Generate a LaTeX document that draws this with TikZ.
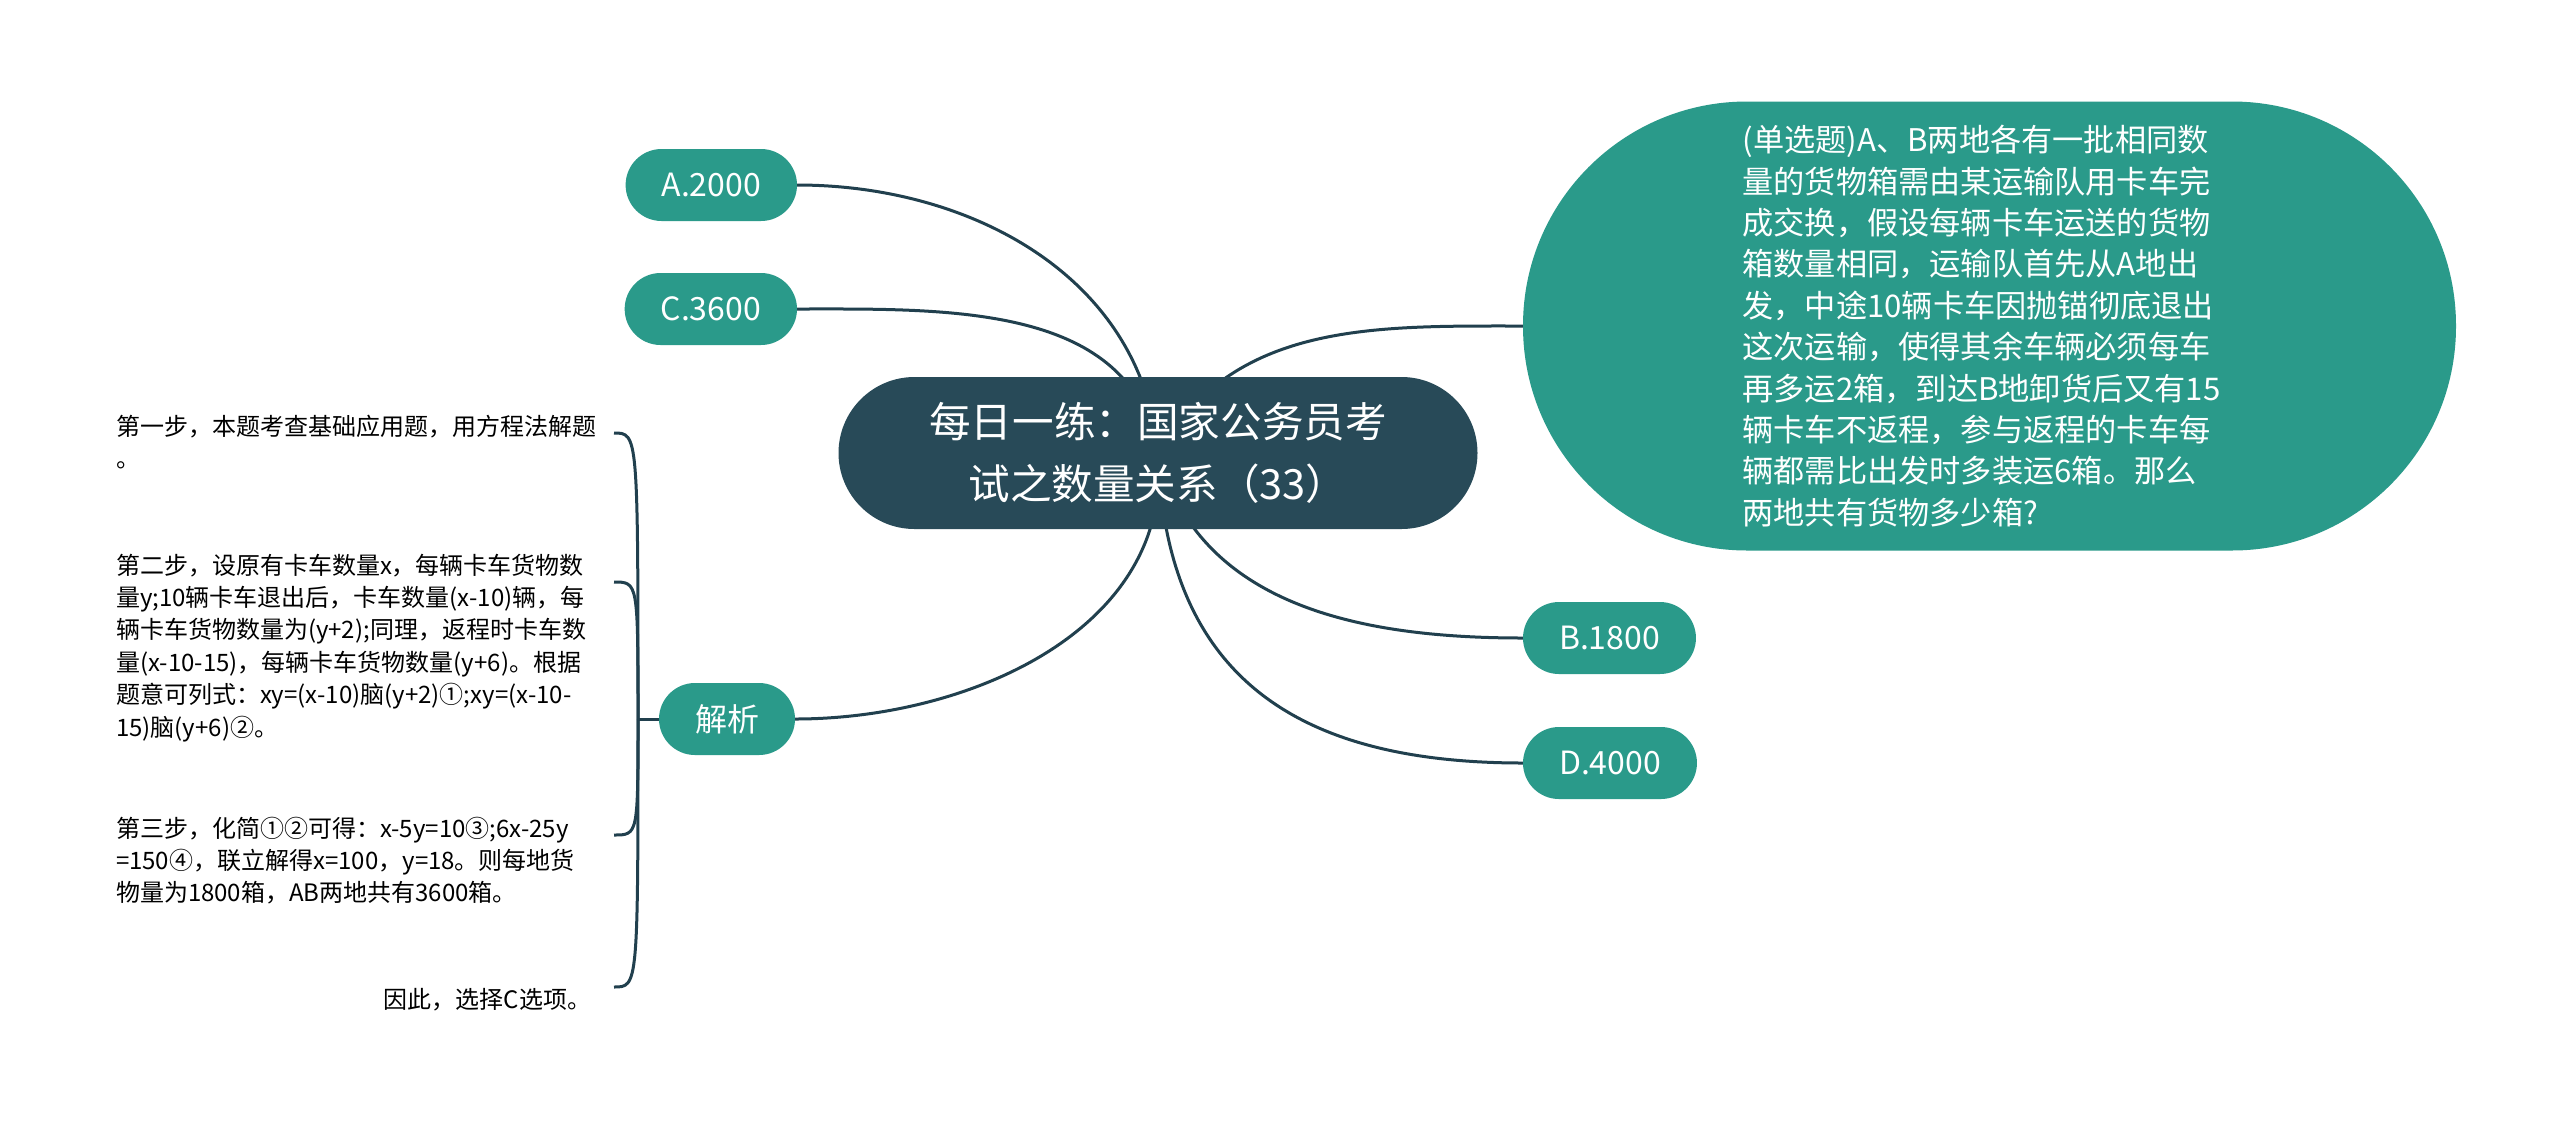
\documentclass[tikz,border=0pt]{standalone}
\usepackage{fontspec}
\setmainfont{Noto Sans CJK SC}
\usetikzlibrary{backgrounds}
\definecolor{rootcol}{HTML}{284A58}
\definecolor{leafcol}{HTML}{2A9A8A}
\definecolor{linecol}{HTML}{21404E}

\begin{document}
\begin{tikzpicture}[x=0.5pt, y=0.5pt,
    every node/.style={inner sep=0pt, outer sep=0pt},
    root/.style={fill=rootcol, text=white, rounded corners=38pt, minimum width=319.5pt, minimum height=76pt, align=center, font=\fontsize{20.8}{31}\selectfont},
    leaf/.style={fill=leafcol, text=white, rounded corners=18pt, minimum height=36pt, inner xsep=18pt, font=\fontsize{16}{20}\selectfont},
    ask/.style={fill=leafcol, text=white, rounded corners=112pt, minimum width=466.5pt, minimum height=224.5pt, text width=247pt, align=left, font=\fontsize{15.6}{20.7}\selectfont},
    note/.style={text width=244pt, align=left, font=\fontsize{12}{16.2}\selectfont},
    link/.style={draw=linecol, line width=1.5pt}]

    \useasboundingbox (0,0) rectangle (2560,-1131);

    % centre
    \node[root] (root) at (1158,-453) {每日一练：国家公务员考\\试之数量关系（33）};

    % options and question
    \node[leaf, anchor=east] (a) at (797,-185) {A.2000};
    \node[leaf, anchor=east] (c) at (797,-309) {C.3600};
    \node[leaf, anchor=east] (jiexi) at (795,-719) {解析};
    \node[leaf, anchor=west] (b) at (1523,-638) {B.1800};
    \node[leaf, anchor=west] (d) at (1523,-763) {D.4000};
    \node[ask, anchor=west] (ask) at (1523,-326) {(单选题)A、B两地各有一批相同数\\量的货物箱需由某运输队用卡车完\\成交换，假设每辆卡车运送的货物\\箱数量相同，运输队首先从A地出\\发，中途10辆卡车因抛锚彻底退出\\这次运输，使得其余车辆必须每车\\再多运2箱，到达B地卸货后又有15\\辆卡车不返程，参与返程的卡车每\\辆都需比出发时多装运6箱。那么\\两地共有货物多少箱?};

    % analysis steps
    \node[note, anchor=base west] (s1) at (116,-435) {第一步，本题考查基础应用题，用方程法解题\\。};
    \node[note, anchor=base west] (s2) at (116,-574) {第二步，设原有卡车数量x，每辆卡车货物数\\量y;10辆卡车退出后，卡车数量(x-10)辆，每\\辆卡车货物数量为(y+2);同理，返程时卡车数\\量(x-10-15)，每辆卡车货物数量(y+6)。根据\\题意可列式：xy=(x-10)脑(y+2)①;xy=(x-10-\\15)脑(y+6)②。};
    \node[note, anchor=base west] (s3) at (116,-837) {第三步，化简①②可得：x-5y=10③;6x-25y\\=150④，联立解得x=100，y=18。则每地货\\物量为1800箱，AB两地共有3600箱。};
    \node[font=\fontsize{12}{16.2}\selectfont, anchor=base east] (s4) at (591,-1008) {因此，选择C选项。};

    \coordinate (jx) at (638,-719);
    \coordinate (h1) at (614,-433);
    \coordinate (h2) at (614,-582);
    \coordinate (h3) at (614,-835);
    \coordinate (h4) at (614,-987);

    \begin{scope}[on background layer]
        \fill[white] (0,0) rectangle (2560,-1131);
        \draw[link] (root.center) to[out=95, in=0] (a.east);
        \draw[link] (root.center) to[out=100, in=0] (c.east);
        \draw[link] (root.center) to[out=-85, in=0] (jiexi.east);
        \draw[link] (root.center) to[out=60, in=180] (ask.west);
        \draw[link] (root.center) to[out=-75, in=180] (b.west);
        \draw[link] (root.center) to[out=-88, in=180, looseness=1.2] (d.west);
        \draw[link] (jiexi.west) -- (jx);
        \foreach \h in {h1,h2,h3,h4}
            \draw[link] (jx) .. controls (jx |- \h) .. (\h);
    \end{scope}
\end{tikzpicture}
\end{document}
